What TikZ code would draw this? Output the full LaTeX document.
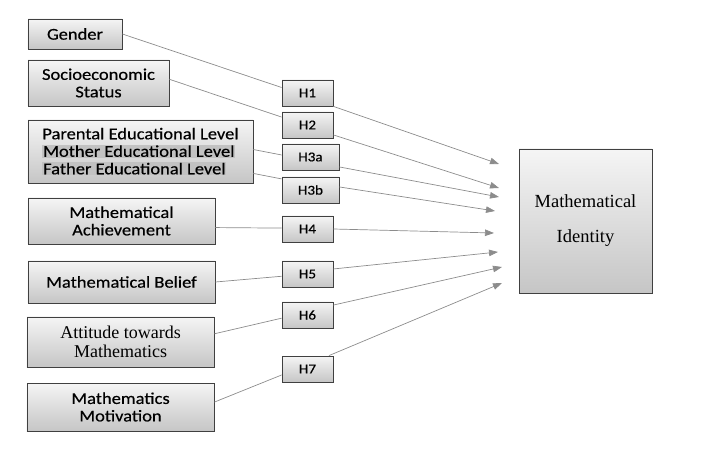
\documentclass[tikz,border=0pt]{standalone}
\usepackage{fontspec}
\usetikzlibrary{arrows.meta, shadows}
\newfontfamily\boxsans[FakeStretch=1.12, FakeBold=0.4]{Carlito}
\newfontfamily\boxserif{Liberation Serif}
\definecolor{hlgray}{HTML}{C2C2C2}
\definecolor{linegray}{HTML}{8C8C8C}

\begin{document}
\begin{tikzpicture}[x = 1bp, y = -1bp,
        varbox/.style = {draw = black!75, line width = 0.8pt, top color = gray!8, bottom color = gray!45,
            drop shadow = {shadow xshift = 1.2pt, shadow yshift = -1.2pt, opacity = 0.35},
            inner sep = 0pt, align = center},
        sanstext/.style = {font = \boxsans\fontsize{16.5bp}{17.5bp}\selectfont},
        seriftext/.style = {font = \boxserif\fontsize{18bp}{19bp}\selectfont},
        hypbox/.style = {varbox, minimum width = 51bp, minimum height = 26bp,
            font = \boxsans\fontsize{13.5bp}{14bp}\selectfont},
        link/.style = {draw = linegray, line width = 0.7pt},
        effect/.style = {link, -{Triangle[length = 9bp, width = 6.5bp]}}]
    \useasboundingbox (0, 0) rectangle (728, 458);

    % independent variables
    \node[varbox, sanstext, minimum width = 94bp, minimum height = 30bp] (gender) at (75, 34) {Gender};
    \node[varbox, sanstext, minimum width = 141bp, minimum height = 46bp] (ses) at (98.5, 83) {Socioeconomic\\Status};
    \node[varbox, sanstext, minimum width = 225bp, minimum height = 63bp, align = left] (parent) at (140.5, 151.5)
        {Parental Educational Level\\
         \setlength{\fboxsep}{0.8pt}\colorbox{hlgray}{Mother Educational Level}\\
         \setlength{\fboxsep}{0.8pt}\colorbox{hlgray}{Father Educational Level}};
    \node[varbox, sanstext, minimum width = 187bp, minimum height = 46bp] (achieve) at (121.5, 221) {Mathematical\\Achievement};
    \node[varbox, sanstext, minimum width = 187bp, minimum height = 42bp] (belief) at (121.5, 282) {Mathematical Belief};
    \node[varbox, seriftext, minimum width = 187bp, minimum height = 50bp] (attitude) at (120.5, 342) {Attitude towards\\Mathematics};
    \node[varbox, sanstext, minimum width = 187bp, minimum height = 48bp] (motiv) at (120.5, 407) {Mathematics\\Motivation};

    % hypotheses
    \node[hypbox] (h1) at (307.5, 93) {H1};
    \node[hypbox] (h2) at (307.5, 125) {H2};
    \node[hypbox, minimum width = 57bp] (h3a) at (310.5, 157) {H3a};
    \node[hypbox, minimum width = 57bp] (h3b) at (310.5, 190) {H3b};
    \node[hypbox] (h4) at (307.5, 229) {H4};
    \node[hypbox] (h5) at (307.5, 274) {H5};
    \node[hypbox] (h6) at (307.5, 315) {H6};
    \node[hypbox] (h7) at (307.5, 369) {H7};

    % dependent variable
    \node[varbox, font = \boxserif\fontsize{18.5bp}{35bp}\selectfont, minimum width = 133bp, minimum height = 144bp]
        (identity) at (585.5, 221) {Mathematical\\Identity};

    % arrow tips
    \coordinate (t1) at (499, 164);
    \coordinate (t2) at (499, 188);
    \coordinate (t3a) at (499, 197);
    \coordinate (t3b) at (495, 211);
    \coordinate (t4) at (494, 233);
    \coordinate (t5) at (498, 252);
    \coordinate (t6) at (502, 267);
    \coordinate (t7) at (502, 283);

    \draw[link] (gender.east) -- (h1.168);
    \draw[link] (ses.3) -- (h2.163);
    \draw[link] (parent.1) -- (h3a.176);
    \draw[link] (parent.-11) -- (h3b.159);
    \draw[link] (achieve.-4) -- (h4.178);
    \draw[link] (belief.east) -- (h5.185);
    \draw[link] (attitude.5) -- (h6.187);
    \draw[link] (motiv.3) -- (h7.193);

    \draw[effect] (h1.south east) -- (t1);
    \draw[effect] (h2.-21) -- (t2);
    \draw[effect] (h3a.-19) -- (t3a);
    \draw[effect] (h3b.6) -- (t3b);
    \draw[effect] (h4.east) -- (t4);
    \draw[effect] (h5.11) -- (t5);
    \draw[effect] (h6.21) -- (t6);
    \draw[effect] (h7.32) -- (t7);
\end{tikzpicture}
\end{document}
